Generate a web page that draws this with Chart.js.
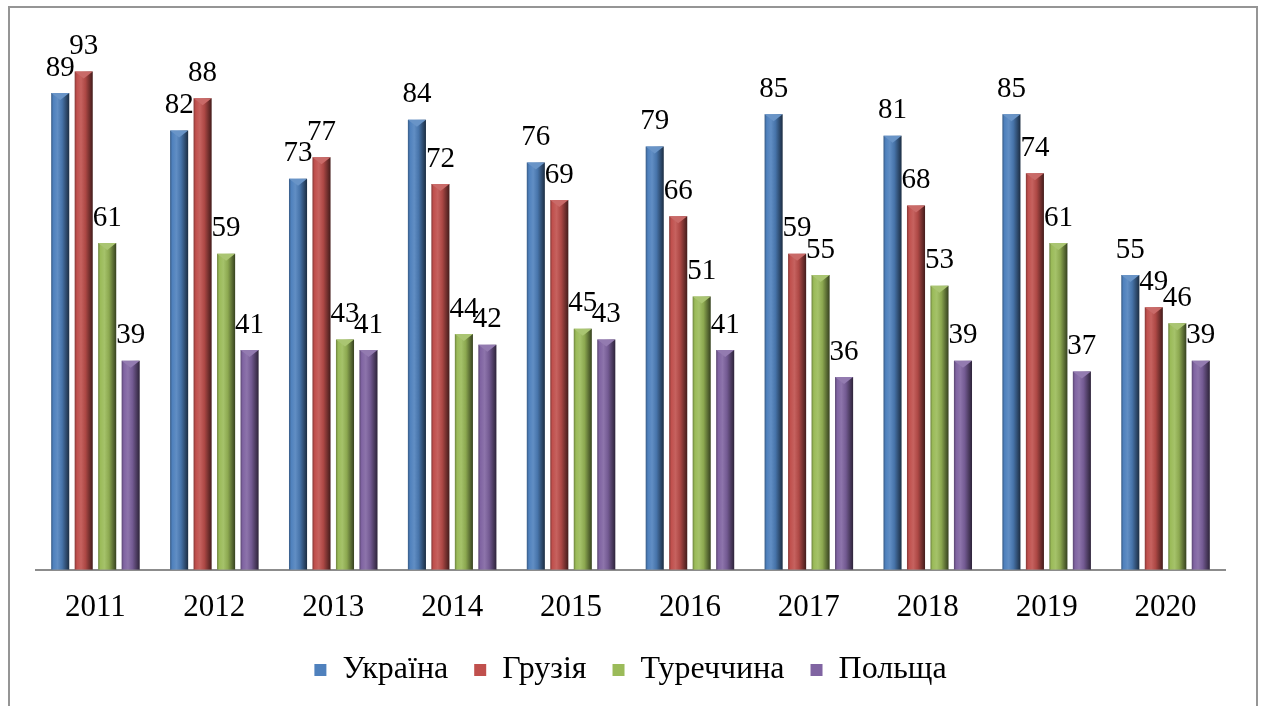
<!DOCTYPE html>
<html>
<head>
<meta charset="utf-8">
<script src="https://cdn.jsdelivr.net/npm/chart.js@4"></script>
<style>
  body { margin: 0; background: #fff; }
  #frame {
    position: absolute; left: 8px; top: 6px;
    width: 1246px; height: 730px;
    border: 2px solid #959595;
  }
  #chartCanvas { position: absolute; left: 0; top: 0; }
</style>
</head>
<body>
<div id="frame"></div>
<canvas id="chartCanvas" width="1261" height="706"></canvas>
<script>
// Chart data
const years = ['2011', '2012', '2013', '2014', '2015', '2016', '2017', '2018', '2019', '2020'];
const ukraine = [89, 82, 73, 84, 76, 79, 85, 81, 85, 55];
const georgia = [93, 88, 77, 72, 69, 66, 59, 68, 74, 49];
const turkey  = [61, 59, 43, 44, 45, 51, 55, 53, 61, 46];
const poland  = [39, 41, 41, 42, 43, 41, 36, 39, 37, 39];

const seriesNames = ['Україна', 'Грузія', 'Туреччина', 'Польща'];
const seriesColors = ['#4F81BD', '#C0504D', '#9BBB59', '#8064A2'];
const seriesData = [ukraine, georgia, turkey, poland];

const FONT = '"Liberation Serif", "Times New Roman", serif';

// lighten / darken a hex colour
function shade(hex, f) {
  const n = parseInt(hex.slice(1), 16);
  let r = (n >> 16) & 255, g = (n >> 8) & 255, b = n & 255;
  const mix = c => f >= 0 ? Math.round(c + (255 - c) * f) : Math.round(c * (1 + f));
  return `rgb(${mix(r)},${mix(g)},${mix(b)})`;
}

// bevel look for the bars + value labels
const bevelPlugin = {
  id: 'bevel',
  beforeDatasetsDraw(chart) {
    const ctx = chart.ctx;
    chart.data.datasets.forEach((ds, di) => {
      const base = seriesColors[di];
      chart.getDatasetMeta(di).data.forEach(el => {
        const left = el.x - el.width / 2;
        const grad = ctx.createLinearGradient(left, 0, left + el.width, 0);
        grad.addColorStop(0, shade(base, -0.3));
        grad.addColorStop(0.12, shade(base, 0.0));
        grad.addColorStop(0.35, shade(base, 0.1));
        grad.addColorStop(0.6, shade(base, -0.1));
        grad.addColorStop(1, shade(base, -0.65));
        el.options.backgroundColor = grad;
      });
    });
  },
  afterDatasetsDraw(chart) {
    const ctx = chart.ctx;
    ctx.save();
    chart.data.datasets.forEach((ds, di) => {
      const base = seriesColors[di];
      chart.getDatasetMeta(di).data.forEach((el, i) => {
        const left = el.x - el.width / 2, right = el.x + el.width / 2;
        // top bevel
        ctx.beginPath();
        ctx.moveTo(left, el.y);
        ctx.lineTo(right, el.y);
        ctx.lineTo(el.x, el.y + 7);
        ctx.closePath();
        ctx.fillStyle = shade(base, 0.15);
        ctx.fill();
        // value label
        ctx.fillStyle = '#000';
        ctx.font = '29px ' + FONT;
        ctx.textAlign = 'center';
        ctx.textBaseline = 'middle';
        ctx.fillText(ds.data[i], el.x, el.y - 25);
      });
    });
    ctx.restore();
  }
};

function draw() {
  new Chart(document.getElementById('chartCanvas').getContext('2d'), {
    type: 'bar',
    data: {
      labels: years,
      datasets: seriesNames.map((name, i) => ({
        label: name,
        data: seriesData[i],
        backgroundColor: c => seriesColors[c.datasetIndex], // scriptable -> per-bar options
        borderWidth: 0,
        categoryPercentage: 0.79,
        barPercentage: 0.77
      }))
    },
    options: {
      responsive: false,
      animation: false,
      layout: { padding: { left: 36, right: 36, top: 34, bottom: 10 } },
      plugins: {
        tooltip: { enabled: false },
        legend: {
          position: 'bottom',
          labels: {
            boxWidth: 12,
            boxHeight: 12,
            padding: 26,
            color: '#000',
            generateLabels: chart => seriesNames.map((name, i) => ({
              text: name,
              fillStyle: seriesColors[i],
              strokeStyle: seriesColors[i],
              lineWidth: 0,
              datasetIndex: i
            })),
            font: { family: FONT, size: 32 }
          }
        }
      },
      scales: {
        x: {
          grid: { display: false },
          border: { display: true, color: '#8c8c8c', width: 2 },
          afterFit: s => { s.height -= 9; },
          ticks: {
            padding: 11,
            color: '#000',
            font: { family: FONT, size: 31 }
          }
        },
        y: {
          display: false,
          min: 0,
          max: 100
        }
      }
    },
    plugins: [bevelPlugin]
  });
}

document.fonts.load('29px "Liberation Serif"').then(draw, draw);
</script>
</body>
</html>
